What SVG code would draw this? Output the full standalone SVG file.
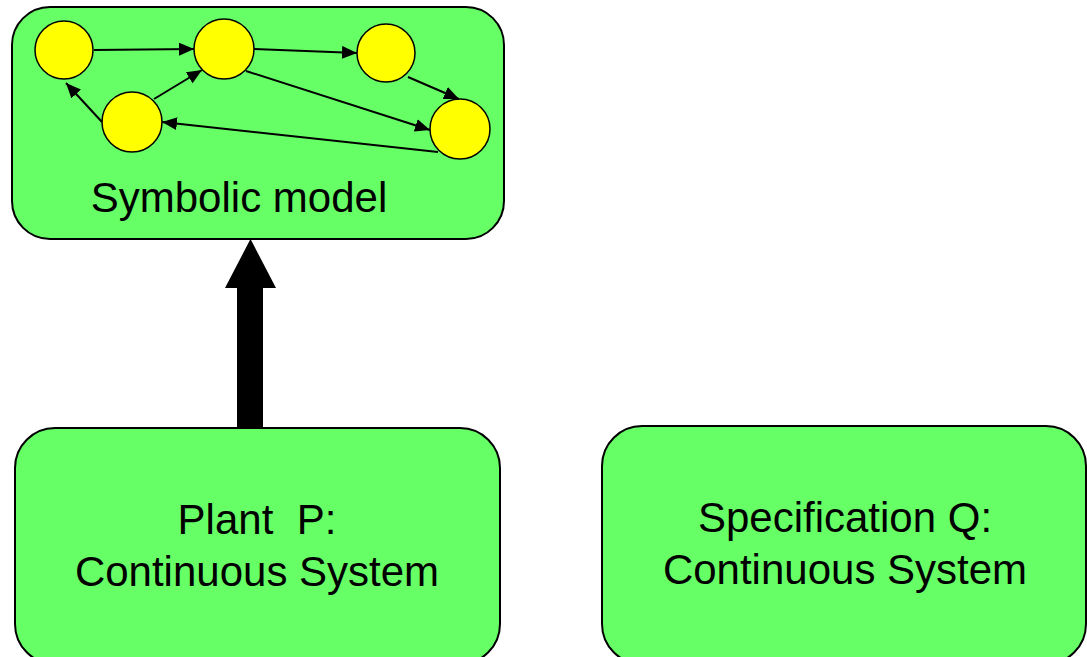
<svg xmlns="http://www.w3.org/2000/svg" width="1087" height="657" viewBox="0 0 1087 657">
<style>
.box{fill:#66FF66;stroke:#000;stroke-width:2}
.st{fill:#FFFF00;stroke:#000;stroke-width:1.5}
.e{stroke:#000;stroke-width:2;fill:none;marker-end:url(#ah)}
text{font-family:"Liberation Sans",Arial,sans-serif;font-size:42px;fill:#000;text-anchor:middle}
</style>
<defs>
<marker id="ah" viewBox="0 0 15 13" refX="15" refY="6.5" markerWidth="15" markerHeight="13" markerUnits="userSpaceOnUse" orient="auto">
<path d="M0,0 L15,6.5 L0,13 Z" fill="#000"/>
</marker>
</defs>
<rect width="1087" height="657" fill="#fff"/>
<g id="symbolic-model">
<rect class="box" x="12" y="7" width="492" height="232" rx="38" ry="38"/>
<circle class="st" cx="64" cy="50" r="29"/>
<circle class="st" cx="224" cy="49" r="30"/>
<circle class="st" cx="386" cy="53" r="29"/>
<circle class="st" cx="132" cy="122" r="30"/>
<circle class="st" cx="460" cy="129" r="30"/>
<text x="239" y="212">Symbolic model</text>
</g>
<g id="plant">
<rect class="box" x="15" y="428" width="485" height="236" rx="40" ry="40"/>
<text x="257" y="534" xml:space="preserve">Plant  P:</text>
<text x="257" y="586">Continuous System</text>
</g>
<g id="specification">
<rect class="box" x="602" y="426" width="484" height="238" rx="40" ry="40"/>
<text x="845" y="532">Specification Q:</text>
<text x="845" y="584">Continuous System</text>
</g>
<g id="connectors">
<line class="e" x1="94" y1="50" x2="194" y2="49"/>
<line class="e" x1="254" y1="49" x2="357" y2="53"/>
<line class="e" x1="408" y1="77" x2="459" y2="99"/>
<line class="e" x1="246" y1="71" x2="430" y2="130"/>
<line class="e" x1="438" y1="152" x2="162" y2="122"/>
<line class="e" x1="154" y1="99" x2="202" y2="70"/>
<line class="e" x1="102" y1="122" x2="66" y2="83"/>
<polygon points="237,428 237,288 225,288 250.5,239 276,288 263,288 263,428" fill="#000"/>
</g>
</svg>
